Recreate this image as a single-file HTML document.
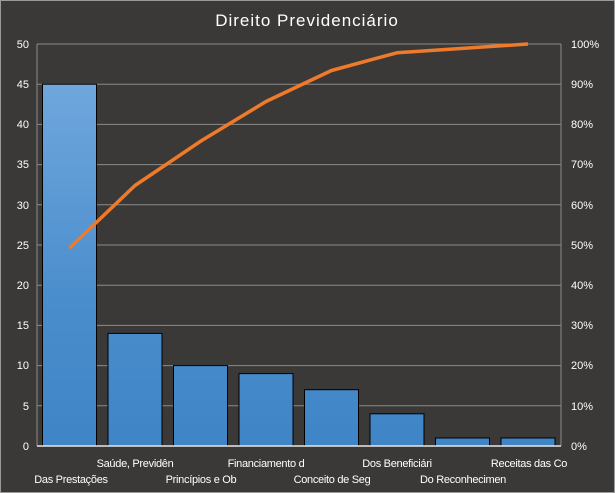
<!DOCTYPE html>
<html><head><meta charset="utf-8"><style>
html,body{margin:0;padding:0;background:#3a3937;}
svg{display:block;}
text{font-family:"Liberation Sans","DejaVu Sans",sans-serif;fill:#fff;}
</style></head><body>
<svg width="615" height="493" viewBox="0 0 615 493" xmlns="http://www.w3.org/2000/svg">
<defs>
<linearGradient id="g" gradientUnits="userSpaceOnUse" x1="0" y1="84" x2="0" y2="446">
<stop offset="0" stop-color="#6fa7dd"/><stop offset="0.6" stop-color="#4a8dcc"/><stop offset="1" stop-color="#3f85c6"/>
</linearGradient>
</defs>
<rect x="0.5" y="0.5" width="614" height="492" fill="#3a3937" stroke="#9a9a9a"/>
<text x="307" y="26" font-size="17" text-anchor="middle" letter-spacing="1">Direito  Previdenciário</text>
<g stroke="#8a8a8a" stroke-width="1">
<line x1="37" y1="44" x2="561" y2="44"/><line x1="37" y1="84.2" x2="561" y2="84.2"/>
<line x1="37" y1="124.4" x2="561" y2="124.4"/><line x1="37" y1="164.6" x2="561" y2="164.6"/>
<line x1="37" y1="204.8" x2="561" y2="204.8"/><line x1="37" y1="245" x2="561" y2="245"/>
<line x1="37" y1="285.2" x2="561" y2="285.2"/><line x1="37" y1="325.4" x2="561" y2="325.4"/>
<line x1="37" y1="365.6" x2="561" y2="365.6"/><line x1="37" y1="405.8" x2="561" y2="405.8"/>
<line x1="37" y1="44" x2="37" y2="446"/><line x1="561" y1="44" x2="561" y2="446"/>
</g>
<g fill="url(#g)" stroke="#000" stroke-width="1">
<rect x="42.5" y="84.2" width="54" height="361.8"/>
<rect x="108" y="333.4" width="54" height="112.6"/>
<rect x="173.5" y="365.6" width="54" height="80.4"/>
<rect x="239" y="373.6" width="54" height="72.4"/>
<rect x="304.5" y="389.7" width="54" height="56.3"/>
<rect x="370" y="413.8" width="54" height="32.2"/>
<rect x="435.5" y="438" width="54" height="8"/>
<rect x="501" y="438" width="54" height="8"/>
</g>
<line x1="37" y1="446" x2="561" y2="446" stroke="#e8e8e8" stroke-width="1.5"/>
<polyline fill="none" stroke="#ef7a2a" stroke-width="3.5" stroke-linejoin="round" points="69.5,248 135,185.5 200.5,141.3 266,101.5 331.5,70.5 397,52.8 462.5,48.4 528,44"/>
<g font-size="11" text-anchor="end">
<text x="29" y="48">50</text><text x="29" y="88">45</text><text x="29" y="128">40</text>
<text x="29" y="168">35</text><text x="29" y="209">30</text><text x="29" y="249">25</text>
<text x="29" y="289">20</text><text x="29" y="329">15</text><text x="29" y="369">10</text>
<text x="29" y="410">5</text><text x="29" y="450">0</text>
</g>
<g font-size="11" text-anchor="start">
<text x="571" y="48">100%</text><text x="571" y="88">90%</text><text x="571" y="128">80%</text>
<text x="571" y="168">70%</text><text x="571" y="209">60%</text><text x="571" y="249">50%</text>
<text x="571" y="289">40%</text><text x="571" y="329">30%</text><text x="571" y="369">20%</text>
<text x="571" y="410">10%</text><text x="571" y="450">0%</text>
</g>
<g font-size="11" text-anchor="middle" letter-spacing="-0.3">
<text x="71" y="483">Das Prestações</text>
<text x="135" y="467">Saúde, Previdên</text>
<text x="201" y="483">Princípios e Ob</text>
<text x="266" y="467">Financiamento d</text>
<text x="332" y="483">Conceito de Seg</text>
<text x="397" y="467">Dos Beneficiári</text>
<text x="463" y="483">Do Reconhecimen</text>
<text x="529" y="467">Receitas das Co</text>
</g>
</svg>
</body></html>
